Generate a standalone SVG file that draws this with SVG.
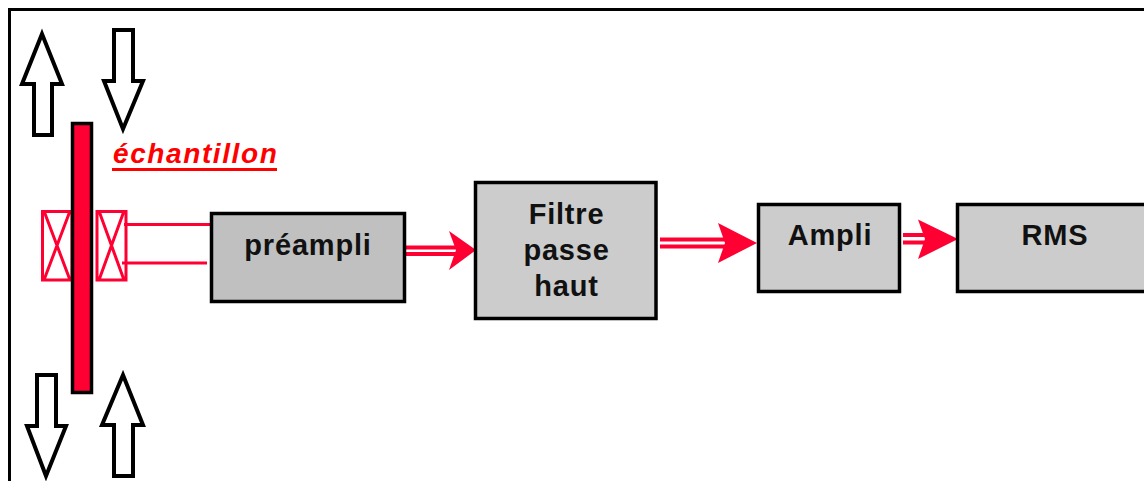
<svg xmlns="http://www.w3.org/2000/svg" width="1144" height="481" viewBox="0 0 1144 481">
<style>
.box{stroke:#000;stroke-width:3.5}
.lbl{font-family:"Liberation Sans",Arial,sans-serif;font-weight:bold;font-size:29px;letter-spacing:0.8px;fill:#111;text-anchor:middle}
.big{stroke:#000;stroke-width:4;fill:#fff;stroke-linejoin:miter}
.coil{fill:none;stroke:#ff0033;stroke-width:3}
.wire{stroke:#ff0033;stroke-width:3;fill:none}
.dbl{stroke:#ff0033;stroke-width:4;fill:none}
.head{fill:#ff0033}
</style>
<rect width="1144" height="481" fill="#fff"/>
<path id="cadre" d="M9.500 481V9.500H1144" fill="none" stroke="#000" stroke-width="3"/>
<g id="fleches-exterieures">
<path class="big" d="M42 34L62 84H52V135H34V84H22Z"/>
<path class="big" d="M114 30H133V81H143L123 129L104 81H114Z"/>
<path class="big" d="M37 375H56V426H66L46 476L27 426H37Z"/>
<path class="big" d="M123 375L143 425H133V476H114V425H102Z"/>
</g>
<g id="bobines">
<path class="coil" d="M42.500 211.500H72V280H42.500ZM44 211L70 280M70 211L44 280"/>
<path class="coil" d="M97 211.500H126V280H97ZM99 211L124 280M124 211L99 280"/>
</g>
<g id="echantillon">
<rect x="72.500" y="123.500" width="19" height="269" fill="#ff0033" stroke="#000" stroke-width="3.500"/>
<text x="113" y="163" font-family="'Liberation Sans',Arial,sans-serif" font-weight="bold" font-style="italic" font-size="28" letter-spacing="1.600" fill="#ff0000">échantillon</text>
<rect x="112" y="168" width="165" height="3" fill="#ff0000"/>
</g>
<g id="connecteurs">
<path class="wire" d="M124 224.500H211M122 263H207"/>
<path class="dbl" d="M406 247.500H462M406 254H462"/>
<path class="head" d="M476 250L449 231L456 250L449 270Z"/>
<path class="dbl" d="M660 239.500H728M660 246.500H728"/>
<path class="head" d="M757 243L718 223L725 243L718 263Z"/>
<path class="dbl" d="M903 235H928M903 242.500H928"/>
<path class="head" d="M958 239L918 219.500L925 239L918 259Z"/>
</g>
<g id="preampli">
<rect class="box" x="211.500" y="213.500" width="193" height="88" fill="#c0c0c0"/>
<text class="lbl" x="308" y="255">préampli</text>
</g>
<g id="filtre">
<rect class="box" x="475.500" y="182.500" width="180.500" height="136" fill="#cccccc"/>
<text class="lbl" x="566.500" y="224">Filtre</text>
<text class="lbl" x="566.500" y="260">passe</text>
<text class="lbl" x="566.500" y="296">haut</text>
</g>
<g id="ampli">
<rect class="box" x="758.500" y="204.500" width="141" height="87" fill="#cccccc"/>
<text class="lbl" x="830" y="245">Ampli</text>
</g>
<g id="rms">
<path class="box" d="M1146 204.500H957.500V291.500H1146" fill="#cccccc"/>
<text class="lbl" x="1055" y="245">RMS</text>
</g>
</svg>
